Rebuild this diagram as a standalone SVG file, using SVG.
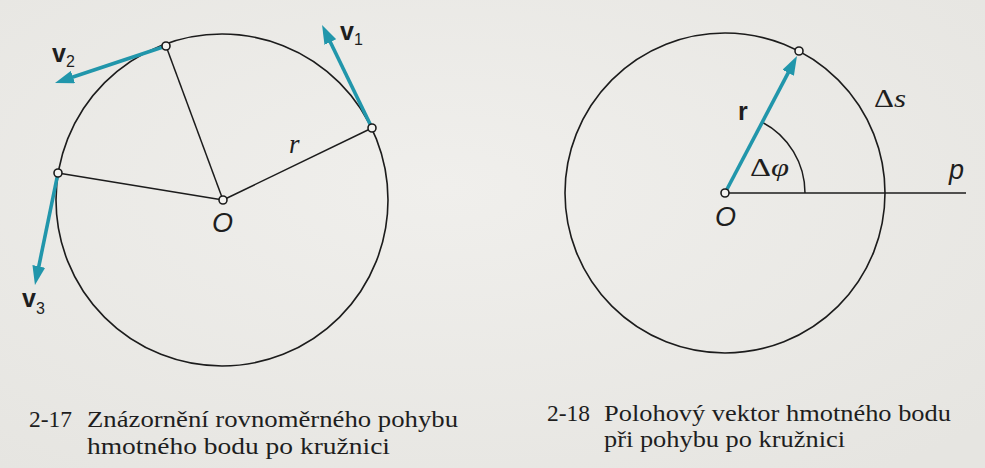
<svg xmlns="http://www.w3.org/2000/svg" width="985" height="468" viewBox="0 0 985 468">
  <defs>
    <radialGradient id="paper" cx="0.45" cy="0.4" r="0.75">
      <stop offset="0" stop-color="#f0efec"/>
      <stop offset="1" stop-color="#e6e5e1"/>
    </radialGradient>
    <marker id="head" markerUnits="userSpaceOnUse" markerWidth="19" markerHeight="13" refX="4" refY="6.5" orient="auto">
      <path d="M0,0 L19,6.5 L0,13 z" fill="#2196ab"/>
    </marker>
  </defs>
  <style>
    .circ { fill: none; stroke: #1c1c1c; stroke-width: 1.6; }
    .rad { fill: none; stroke: #1c1c1c; stroke-width: 1.5; }
    .pt { fill: #f4f3f0; stroke: #1c1c1c; stroke-width: 1.6; }
    .vec { fill: none; stroke: #2196ab; stroke-width: 3.6; marker-end: url(#head); }
    .vlab { font-family: "Liberation Sans", Arial, sans-serif; font-weight: bold; font-size: 25px; fill: #1e1e1e; }
    .sub { font-family: "Liberation Sans", Arial, sans-serif; font-size: 16px; fill: #1e1e1e; }
    .it { font-family: "Liberation Serif", "Times New Roman", serif; font-style: italic; font-size: 27px; fill: #1e1e1e; }
    .osym { font-family: "Liberation Sans", Arial, sans-serif; font-style: italic; font-size: 27px; fill: #1e1e1e; }
    .greek { font-family: "Liberation Serif", "Times New Roman", serif; font-size: 25px; fill: #1e1e1e; }
    .cap { font-family: "Liberation Serif", "Times New Roman", serif; font-size: 23px; fill: #1e1e1e; }
  </style>

  <rect x="0" y="0" width="985" height="468" fill="url(#paper)"/>

  <!-- Figure 2-17 -->
  <g id="fig-2-17">
    <g id="circle-left">
      <circle class="circ" cx="222" cy="200" r="166"/>
    </g>
    <g id="connectors-left">
      <line class="rad" x1="223" y1="200" x2="372" y2="128"/>
      <line class="rad" x1="223" y1="200" x2="166" y2="46"/>
      <line class="rad" x1="223" y1="200" x2="58" y2="173"/>
      <line class="vec" x1="372" y1="128" x2="328.6" y2="38.5"/>
      <line class="vec" x1="166" y1="46" x2="69.2" y2="78.3"/>
      <line class="vec" x1="58" y1="173" x2="38" y2="270.3"/>
    </g>
    <g id="point-O-left"><circle class="pt" cx="223" cy="200" r="4"/></g>
    <g id="point-1"><circle class="pt" cx="372" cy="128" r="4"/></g>
    <g id="point-2"><circle class="pt" cx="166" cy="46" r="4"/></g>
    <g id="point-3"><circle class="pt" cx="58" cy="173" r="4"/></g>
    <g id="labels-left">
      <text class="vlab" x="340" y="40">v</text><text class="sub" x="354" y="45">1</text>
      <text class="vlab" x="52" y="62">v</text><text class="sub" x="66" y="67">2</text>
      <text class="vlab" x="22" y="307">v</text><text class="sub" x="36" y="314">3</text>
      <text class="it" x="289" y="153">r</text>
      <text class="osym" x="212" y="232">O</text>
    </g>
  </g>

  <!-- Figure 2-18 -->
  <g id="fig-2-18">
    <g id="circle-right">
      <circle class="circ" cx="725" cy="193" r="160"/>
    </g>
    <g id="connectors-right">
      <line class="rad" x1="725" y1="193" x2="966" y2="193"/>
      <path class="rad" d="M805,193 A80,80 0 0 0 762.2,122.2"/>
      <line class="vec" x1="725" y1="193" x2="790" y2="69.3"/>
    </g>
    <g id="point-O-right"><circle class="pt" cx="725" cy="193" r="4"/></g>
    <g id="point-P"><circle class="pt" cx="799" cy="51" r="4"/></g>
    <g id="labels-right">
      <text class="vlab" x="738" y="120">r</text>
      <text class="greek" x="750" y="176" textLength="39" lengthAdjust="spacingAndGlyphs">Δ<tspan font-style="italic">φ</tspan></text>
      <text class="greek" x="874" y="107" textLength="32" lengthAdjust="spacingAndGlyphs">Δ<tspan font-style="italic">s</tspan></text>
      <text class="osym" x="949" y="179" font-size="23">p</text>
      <text class="osym" x="715" y="226">O</text>
    </g>
  </g>

  <!-- Captions -->
  <g id="caption-2-17">
    <text class="cap" x="29" y="427" textLength="43" lengthAdjust="spacingAndGlyphs">2-17</text>
    <text class="cap" x="87" y="427" textLength="371" lengthAdjust="spacingAndGlyphs">Znázornění rovnoměrného pohybu</text>
    <text class="cap" x="87" y="454" textLength="303" lengthAdjust="spacingAndGlyphs">hmotného bodu po kružnici</text>
  </g>
  <g id="caption-2-18">
    <text class="cap" x="547" y="421" textLength="43" lengthAdjust="spacingAndGlyphs">2-18</text>
    <text class="cap" x="604" y="421" textLength="347" lengthAdjust="spacingAndGlyphs">Polohový vektor hmotného bodu</text>
    <text class="cap" x="604" y="447" textLength="241" lengthAdjust="spacingAndGlyphs">při pohybu po kružnici</text>
  </g>
</svg>
